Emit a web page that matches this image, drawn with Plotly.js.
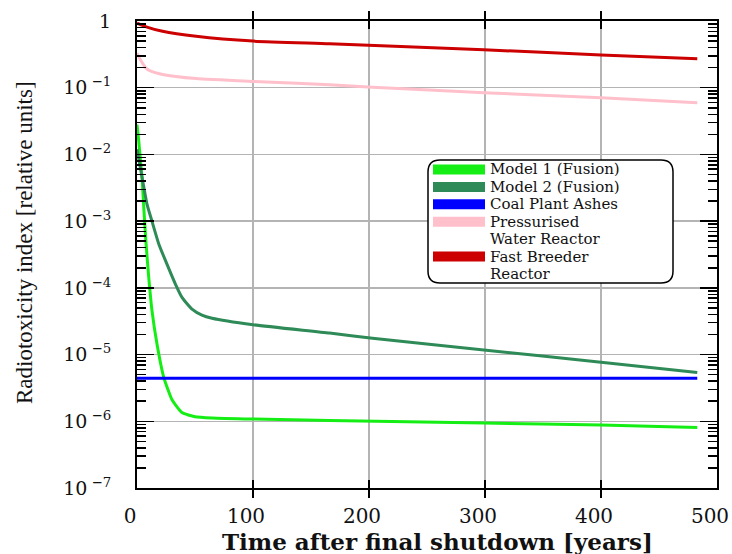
<!DOCTYPE html>
<html>
<head>
<meta charset="utf-8">
<script src="https://cdn.plot.ly/plotly-3.0.1.min.js"></script>
<style>
  html, body { margin: 0; padding: 0; background: #ffffff; }
  #chart { width: 732px; height: 554px; }
</style>
</head>
<body>
<div id="chart"></div>
<script>
// Radiotoxicity index after final shutdown, relative units (log scale)

const seriesNames = [
  'Model 1 (Fusion)',
  'Model 2 (Fusion)',
  'Coal Plant Ashes',
  'Pressurised<br>Water Reactor',
  'Fast Breeder<br>Reactor'
];
const seriesColors = ['#14ee14', '#2e8b57', '#0000ff', '#ffc0cb', '#cc0000'];

// Model 1 (Fusion)
const model1Years = [0, 1.5, 3, 4.3, 6, 7.8, 10.1, 12.9, 17.2, 23, 30.2, 38.8, 50, 64.7, 100, 166, 299, 400, 483];
const model1Index = [2.8e-2, 1.6e-2, 8.0e-3, 4.6e-3, 1.45e-3, 4.6e-4, 1.45e-4, 4.6e-5, 1.45e-5, 4.6e-6, 2.1e-6, 1.35e-6, 1.17e-6, 1.12e-6, 1.08e-6, 1.03e-6, 0.94e-6, 0.88e-6, 0.81e-6];

// Model 2 (Fusion)
const model2Years = [0, 4.3, 8.6, 12.9, 18.7, 24.4, 33, 38.8, 47.4, 56, 64.7, 100, 166, 203, 299, 400, 483];
const model2Index = [1.2e-2, 4.6e-3, 1.8e-3, 1.0e-3, 4.6e-4, 2.6e-4, 1.15e-4, 7.2e-5, 4.8e-5, 3.9e-5, 3.5e-5, 2.8e-5, 2.1e-5, 1.75e-5, 1.17e-5, 7.7e-6, 5.4e-6];

// Coal Plant Ashes
const coalYears = [0, 483];
const coalIndex = [4.4e-6, 4.4e-6];

// Pressurised Water Reactor
const pwrYears = [0, 2, 5, 8, 11, 22, 51, 100, 166, 203, 299, 400, 483];
const pwrIndex = [0.33, 0.28, 0.23, 0.195, 0.18, 0.158, 0.137, 0.124, 0.111, 0.102, 0.084, 0.071, 0.0596];

// Fast Breeder Reactor
const fbrYears = [0, 8.6, 22, 51, 100, 166, 299, 400, 483];
const fbrIndex = [0.93, 0.81, 0.70, 0.59, 0.50, 0.455, 0.37, 0.31, 0.272];

// Axis ticks
const xTickVals = [0, 100, 200, 300, 400, 500];
const xTickText = ['0', '100', '200', '300', '400', '500'];
const yTickVals = [1, 1e-1, 1e-2, 1e-3, 1e-4, 1e-5, 1e-6, 1e-7];
const yTickText = ['1', '10<sup> \u22121</sup>', '10<sup> \u22122</sup>', '10<sup> \u22123</sup>',
  '10<sup> \u22124</sup>', '10<sup> \u22125</sup>', '10<sup> \u22126</sup>', '10<sup> \u22127</sup>'];

const seriesYears = [model1Years, model2Years, coalYears, pwrYears, fbrYears];
const seriesIndex = [model1Index, model2Index, coalIndex, pwrIndex, fbrIndex];

// ---- plot geometry (pixels) ----
const W = 732, H = 554;
const M = { l: 137, r: 15, t: 21, b: 66 };
const plotW = W - M.l - M.r, plotH = H - M.t - M.b;
const px = x => (x - M.l) / plotW;          // page x -> paper x
const py = y => (H - M.b - y) / plotH;      // page y -> paper y
const pt = (x, y) => px(x).toFixed(5) + ',' + py(y).toFixed(5);

const serif = '"DejaVu Serif", "Liberation Serif", serif';
const timesLike = '"Liberation Serif", "Times New Roman", Times, serif';

// the coal trace sits on the overlaid log axis that carries the minor ticks
const traces = seriesNames.map((name, i) => ({
  type: 'scatter',
  mode: 'lines',
  name: name,
  x: seriesYears[i],
  y: seriesIndex[i],
  yaxis: i === 2 ? 'y2' : 'y',
  line: { color: seriesColors[i], width: 3, shape: 'spline', smoothing: 0.5 },
  showlegend: false,
  hoverinfo: 'x+y+name'
}));

// minor ticks 2..9 within each decade
const minorVals = [];
for (let d = -7; d < 0; d++) {
  for (let k = 2; k <= 9; k++) minorVals.push(k * Math.pow(10, d));
}

// ---- framed legend with rounded corners ----
const box = { x0: 428, x1: 673, y0: 160, y1: 283, r: 12 };
const legendPath = [
  'M', pt(box.x0 + box.r, box.y0),
  'L', pt(box.x1 - box.r, box.y0),
  'Q', pt(box.x1, box.y0), pt(box.x1, box.y0 + box.r),
  'L', pt(box.x1, box.y1 - box.r),
  'Q', pt(box.x1, box.y1), pt(box.x1 - box.r, box.y1),
  'L', pt(box.x0 + box.r, box.y1),
  'Q', pt(box.x0, box.y1), pt(box.x0, box.y1 - box.r),
  'L', pt(box.x0, box.y0 + box.r),
  'Q', pt(box.x0, box.y0), pt(box.x0 + box.r, box.y0),
  'Z'
].join(' ');

const shapes = [{
  type: 'path', xref: 'paper', yref: 'paper', layer: 'above',
  path: legendPath, fillcolor: '#ffffff', line: { color: '#000000', width: 1.5 }
}];
const annotations = [];

const rowStart = 169.5, rowStep = 17.4;
let row = 0;
seriesNames.forEach((name, i) => {
  const yRow = rowStart + row * rowStep;
  shapes.push({
    type: 'line', xref: 'paper', yref: 'paper', layer: 'above',
    x0: px(433), x1: px(485), y0: py(yRow), y1: py(yRow),
    line: { color: seriesColors[i], width: 10 }
  });
  name.split('<br>').forEach((part, j) => {
    annotations.push({
      xref: 'paper', yref: 'paper', x: px(489), y: py(yRow + j * rowStep),
      xanchor: 'left', yanchor: 'middle', showarrow: false, text: part,
      borderpad: 0,
      font: { family: serif, size: 15, color: '#111111' }
    });
    row++;
  });
});

// y-axis title
annotations.push({
  xref: 'paper', yref: 'paper', x: px(24), y: py(243),
  xanchor: 'center', yanchor: 'middle', showarrow: false, textangle: -90,
  text: 'Radiotoxicity index [relative units]',
  font: { family: timesLike, size: 23, color: '#111111' }
});

// x-axis title
annotations.push({
  xref: 'paper', yref: 'paper', x: px(437), y: py(541),
  xanchor: 'center', yanchor: 'middle', showarrow: false,
  text: '<b>Time after final shutdown [years]</b>',
  borderpad: 0,
  font: { family: serif, size: 23, color: '#111111' }
});

const layout = {
  width: W, height: H,
  margin: M,
  paper_bgcolor: '#ffffff',
  plot_bgcolor: '#ffffff',
  showlegend: false,
  xaxis: {
    range: [0, 500],
    tickmode: 'array', tickvals: xTickVals, ticktext: xTickText,
    ticks: 'inside', ticklen: 8, tickwidth: 2, tickcolor: '#000000',
    showline: true, linecolor: '#000000', linewidth: 2, mirror: 'allticks',
    showgrid: true, gridcolor: '#b4b4b4', gridwidth: 1.5,
    zeroline: false,
    ticklabelstandoff: 9, ticklabelshift: -7,
    tickfont: { family: serif, size: 20, color: '#111111' }
  },
  yaxis: {
    type: 'log',
    range: [-7, 0],
    tickmode: 'array', tickvals: yTickVals, ticktext: yTickText,
    ticks: 'inside', ticklen: 17, tickwidth: 1.5, tickcolor: '#000000',
    showline: true, linecolor: '#000000', linewidth: 2, mirror: 'allticks',
    showgrid: true, gridcolor: '#b4b4b4', gridwidth: 1.5,
    zeroline: false,
    ticklabelstandoff: 20,
    tickfont: { family: serif, size: 19, color: '#111111' }
  },
  yaxis2: {
    type: 'log',
    range: [-7, 0],
    overlaying: 'y', anchor: 'x', side: 'left',
    tickmode: 'array', tickvals: minorVals,
    ticks: 'inside', ticklen: 9, tickwidth: 1.5, tickcolor: '#000000',
    showticklabels: false,
    showline: true, linecolor: '#000000', linewidth: 2, mirror: 'allticks',
    showgrid: false, zeroline: false
  },
  shapes: shapes,
  annotations: annotations
};

Plotly.newPlot('chart', traces, layout, { displayModeBar: false, staticPlot: true });
</script>
</body>
</html>
